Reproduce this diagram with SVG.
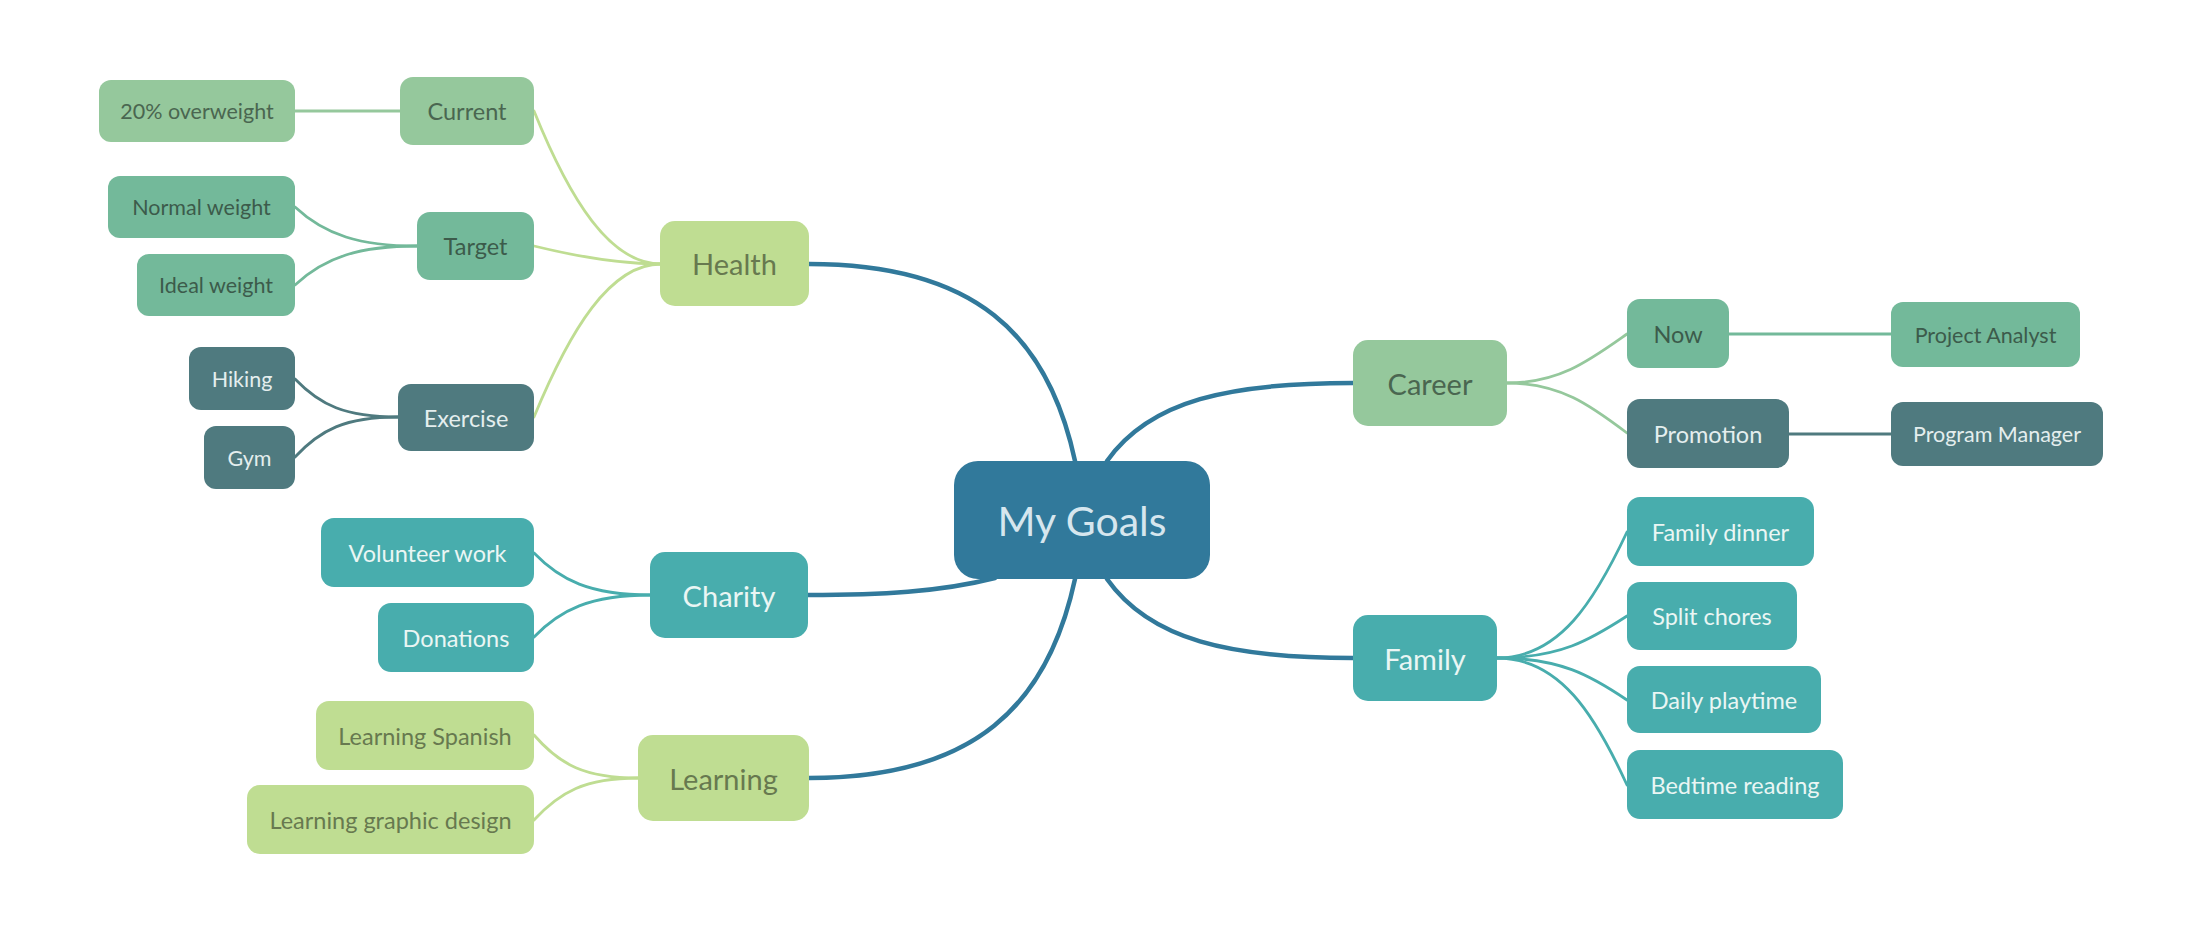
<svg xmlns="http://www.w3.org/2000/svg" width="2203" height="932" viewBox="0 0 2203 932">
<style>
text{font-family:Lato,"Open Sans","Liberation Sans",sans-serif;text-anchor:middle;dominant-baseline:central}
.root rect{fill:#31799b}.root text{fill:#d6e6ee;font-size:41px}
.l1 text{font-size:29px}.l2 text{font-size:23.5px}.l3 text{font-size:21.5px}
.lime rect{fill:#bfdd92}.lime text{fill:#67794f}
.teal rect{fill:#48adad}.teal text{fill:#eaf6f4}
.sage rect{fill:#95c89c}.sage text{fill:#4a6650}
.mint rect{fill:#73b99a}.mint text{fill:#3c5b4b}
.slate rect{fill:#4f7a7f}.slate text{fill:#e4eeee}
#connectors path{fill:none;stroke-linecap:round}
.c0{stroke:#31799b;stroke-width:4.5}
.cl{stroke:#bfdd92;stroke-width:2.8}
.ct{stroke:#48adad;stroke-width:2.8}
.cs{stroke:#95c89c;stroke-width:2.8}
.cm{stroke:#73b99a;stroke-width:2.8}
.cd{stroke:#4f7a7f;stroke-width:2.8}
</style>
<rect width="2203" height="932" fill="#ffffff"/>
<g id="connectors">
<path class="c0" d="M1075,461 C1048,335 975,264 809,264"/>
<path class="c0" d="M1075,579 C1048,705 975,778 809,778"/>
<path class="c0" d="M995,578 C940,592 880,595 808,595"/>
<path class="c0" d="M1107,461 C1150,400 1230,383 1353,383"/>
<path class="c0" d="M1107,579 C1150,640 1230,658 1353,658"/>
<path class="cl" d="M661,264 C610,264 570,200 534,111"/>
<path class="cl" d="M661,264 C620,264 575,256 534,246"/>
<path class="cl" d="M661,264 C610,264 570,330 534,417"/>
<path class="cs" d="M400,111 H295"/>
<path class="cm" d="M417,246 C360,246 325,235 295,207"/>
<path class="cm" d="M417,246 C360,246 325,257 295,285"/>
<path class="cd" d="M398,417 C345,417 320,405 295,379"/>
<path class="cd" d="M398,417 C345,417 320,430 295,457"/>
<path class="ct" d="M650,595 C590,595 560,580 534,553"/>
<path class="ct" d="M650,595 C590,595 560,610 534,637"/>
<path class="cl" d="M638,778 C585,778 560,765 534,735"/>
<path class="cl" d="M638,778 C585,778 560,792 534,820"/>
<path class="cs" d="M1507,383 C1560,383 1590,360 1627,334"/>
<path class="cs" d="M1507,383 C1560,383 1590,405 1627,433"/>
<path class="cm" d="M1729,334 H1891"/>
<path class="cd" d="M1789,434 H1891"/>
<path class="ct" d="M1497,658 C1560,658 1595,600 1627,532"/>
<path class="ct" d="M1497,658 C1560,658 1590,640 1627,616"/>
<path class="ct" d="M1497,658 C1560,658 1590,675 1627,700"/>
<path class="ct" d="M1497,658 C1560,658 1595,715 1627,785"/>
</g>
<g id="root" class="root"><rect x="954" y="461" width="256" height="118" rx="24"/><text x="1082" y="520">My Goals</text></g>
<g id="health" class="l1 lime"><rect x="660" y="221" width="149" height="85" rx="15"/><text x="734.5" y="263.5">Health</text></g>
<g id="charity" class="l1 teal"><rect x="650" y="552" width="158" height="86" rx="15"/><text x="729" y="595">Charity</text></g>
<g id="learning" class="l1 lime"><rect x="638" y="735" width="171" height="86" rx="15"/><text x="723.5" y="778">Learning</text></g>
<g id="career" class="l1 sage"><rect x="1353" y="340" width="154" height="86" rx="15"/><text x="1430" y="383">Career</text></g>
<g id="family" class="l1 teal"><rect x="1353" y="615" width="144" height="86" rx="15"/><text x="1425" y="658">Family</text></g>
<g id="current" class="l2 sage"><rect x="400" y="77" width="134" height="68" rx="13"/><text x="467" y="111">Current</text></g>
<g id="target" class="l2 mint"><rect x="417" y="212" width="117" height="68" rx="13"/><text x="475.5" y="246">Target</text></g>
<g id="exercise" class="l2 slate"><rect x="398" y="384" width="136" height="67" rx="13"/><text x="466" y="417.5">Exercise</text></g>
<g id="overweight" class="l3 sage"><rect x="99" y="80" width="196" height="62" rx="12"/><text x="197" y="111">20% overweight</text></g>
<g id="normal" class="l3 mint"><rect x="108" y="176" width="187" height="62" rx="12"/><text x="201.5" y="207">Normal weight</text></g>
<g id="ideal" class="l3 mint"><rect x="137" y="254" width="158" height="62" rx="12"/><text x="216" y="285">Ideal weight</text></g>
<g id="hiking" class="l3 slate"><rect x="189" y="347" width="106" height="63" rx="12"/><text x="242" y="378.5">Hiking</text></g>
<g id="gym" class="l3 slate"><rect x="204" y="426" width="91" height="63" rx="12"/><text x="249.5" y="457.5">Gym</text></g>
<g id="volunteer" class="l2 teal"><rect x="321" y="518" width="213" height="69" rx="13"/><text x="427.5" y="552.5">Volunteer work</text></g>
<g id="donations" class="l2 teal"><rect x="378" y="603" width="156" height="69" rx="13"/><text x="456" y="637.5">Donations</text></g>
<g id="spanish" class="l2 lime"><rect x="316" y="701" width="218" height="69" rx="13"/><text x="425" y="735.5">Learning Spanish</text></g>
<g id="graphic" class="l2 lime"><rect x="247" y="785" width="287" height="69" rx="13"/><text x="390.5" y="819.5">Learning graphic design</text></g>
<g id="now" class="l2 mint"><rect x="1627" y="299" width="102" height="69" rx="13"/><text x="1678" y="333.5">Now</text></g>
<g id="promotion" class="l2 slate"><rect x="1627" y="399" width="162" height="69" rx="13"/><text x="1708" y="433.5">Promotion</text></g>
<g id="analyst" class="l3 mint"><rect x="1891" y="302" width="189" height="65" rx="12"/><text x="1985.5" y="334.5">Project Analyst</text></g>
<g id="manager" class="l3 slate"><rect x="1891" y="402" width="212" height="64" rx="12"/><text x="1997" y="434">Program Manager</text></g>
<g id="dinner" class="l2 teal"><rect x="1627" y="497" width="187" height="69" rx="13"/><text x="1720.5" y="531.5">Family dinner</text></g>
<g id="chores" class="l2 teal"><rect x="1627" y="582" width="170" height="68" rx="13"/><text x="1712" y="616">Split chores</text></g>
<g id="playtime" class="l2 teal"><rect x="1627" y="666" width="194" height="67" rx="13"/><text x="1724" y="699.5">Daily playtime</text></g>
<g id="bedtime" class="l2 teal"><rect x="1627" y="750" width="216" height="69" rx="13"/><text x="1735" y="784.5">Bedtime reading</text></g>
</svg>
